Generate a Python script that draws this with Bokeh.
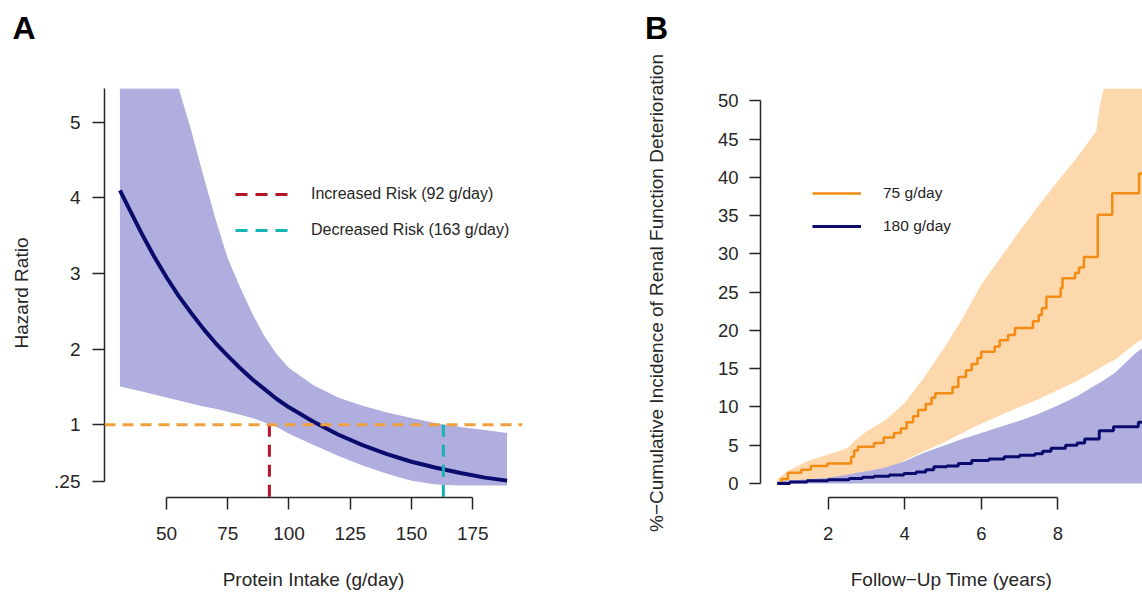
from bokeh.plotting import figure
from bokeh.models import Range1d, FixedTicker, Legend, LegendItem, Span
from bokeh.layouts import row, column
from bokeh.core.properties import value
from bokeh.embed import file_html
from bokeh.resources import INLINE

FONT = "Liberation Sans"
TXT = "#262626"
LAV = "#afaede"
PEACH = "#fdd8ac"
NAVY = "#0b0b6e"
ORANGE = "#f28c14"
ORANGE_DASH = "#f0a03c"

# ---------------- Panel A data ----------------
protein = [31, 35, 40, 45, 50, 55, 60, 65, 70, 75, 80, 85, 90, 95, 100,
           110, 120, 130, 140, 150, 160, 170, 180, 189]
hazard_ratio = [4.10, 3.84, 3.52, 3.22, 2.95, 2.70, 2.48, 2.27, 2.08, 1.91, 1.75,
                1.60, 1.47, 1.34, 1.23, 1.04, 0.87, 0.73, 0.61, 0.51, 0.43,
                0.36, 0.30, 0.26]
band_protein = [31, 40, 50, 55, 60, 65, 70, 75, 80, 85, 90, 95, 100, 110, 120,
                130, 140, 150, 160, 170, 180, 189]
hr_lower = [1.505, 1.44, 1.36, 1.32, 1.28, 1.24, 1.21, 1.17, 1.13, 1.09, 1.03,
            0.97, 0.88, 0.73, 0.59, 0.46, 0.35, 0.26, 0.21, 0.195, 0.195, 0.195]
hr_upper = [5.45, 5.45, 5.45, 5.45, 4.90, 4.30, 3.72, 3.20, 2.82, 2.47, 2.17,
            1.93, 1.75, 1.52, 1.36, 1.25, 1.16, 1.09, 1.02, 0.97, 0.93, 0.89]
reference_hr = 1.0
threshold_intake = [92, 163]
threshold_labels = ["Increased Risk (92 g/day)", "Decreased Risk (163 g/day)"]
threshold_colors = ["#b41428", "#16b3b3"]
hr_ticks = [0.25, 1, 2, 3, 4, 5]
hr_tick_labels = [".25", "1", "2", "3", "4", "5"]
intake_ticks = [50, 75, 100, 125, 150, 175]

# ---------------- Panel B data ----------------
t75 = [0.67, 0.78, 0.95, 1.30, 1.55, 1.98, 2.60, 2.68, 2.78, 3.20, 3.45, 3.72,
       3.90, 4.05, 4.22, 4.35, 4.55, 4.70, 4.80, 5.25, 5.40, 5.60, 5.75, 5.90,
       6.00, 6.35, 6.48, 6.70, 6.88, 7.35, 7.50, 7.58, 7.70, 8.07, 8.12, 8.45,
       8.55, 8.68, 9.04, 9.42, 10.12, 10.30]
inc75 = [0.0, 0.6, 1.4, 1.8, 2.3, 2.6, 3.5, 4.3, 4.8, 5.3, 6.0, 6.6,
         7.2, 8.0, 8.8, 9.6, 10.4, 11.2, 11.8, 12.6, 13.9, 14.8, 15.6, 16.4,
         17.2, 17.9, 18.7, 19.4, 20.3, 21.2, 22.0, 22.9, 24.4, 25.5, 26.8, 27.5,
         28.2, 29.6, 35.1, 37.9, 40.5, 40.5]
t180 = [0.67, 1.00, 1.45, 2.00, 2.55, 2.90, 3.20, 3.60, 3.98, 4.30, 4.55, 4.76,
        5.10, 5.40, 5.75, 6.20, 6.60, 7.00, 7.40, 7.60, 7.82, 8.20, 8.50, 8.70,
        9.08, 9.45, 10.10, 10.30]
inc180 = [0.0, 0.2, 0.35, 0.5, 0.65, 0.8, 0.95, 1.1, 1.3, 1.5, 1.8, 2.2,
          2.3, 2.6, 3.0, 3.2, 3.5, 3.7, 3.9, 4.2, 4.6, 5.0, 5.3, 5.8,
          6.9, 7.4, 8.0, 8.2]
t_band = [0.67, 1.0, 1.5, 2.0, 2.5, 2.75, 3.0, 3.5, 4.0, 4.5, 5.0, 5.5, 6.0,
          6.5, 7.0, 7.5, 8.0, 8.5, 9.0, 9.1, 9.2, 9.5, 10.0, 10.3]
upper75 = [0.6, 1.8, 3.0, 3.8, 4.6, 5.8, 6.8, 8.3, 10.5, 13.8, 17.5, 21.5, 26.0,
           29.5, 33.0, 36.3, 39.5, 42.6, 46.0, 49.5, 51.6, 51.6, 51.6, 51.6]
lower75 = [0.1, 0.2, 0.35, 0.5, 0.8, 1.0, 1.2, 1.8, 3.0, 4.2, 5.3, 6.6, 7.8,
           8.9, 10.0, 11.0, 12.2, 13.4, 14.8, 15.1, 15.4, 16.2, 18.2, 19.2]
upper180 = [0.3, 0.4, 0.55, 0.75, 1.15, 1.4, 1.6, 2.1, 2.9, 4.0, 4.9, 5.8, 6.6,
            7.4, 8.2, 9.1, 10.2, 11.4, 12.9, 13.2, 13.5, 14.5, 16.9, 18.0]
lower180 = 0
series_labels = ["75 g/day", "180 g/day"]
year_ticks = [2, 4, 6, 8]
pct_ticks = [0, 5, 10, 15, 20, 25, 30, 35, 40, 45, 50]
panel_letters = ["A", "B"]


def style_axis(ax, ticks, bounds, tick_size, tick_out, label_standoff,
               axis_label_standoff):
    ax.ticker = FixedTicker(ticks=ticks, minor_ticks=[])
    ax.bounds = bounds
    ax.axis_line_color = TXT
    ax.axis_line_width = 1.5
    ax.major_tick_line_color = TXT
    ax.major_tick_line_width = 1.5
    ax.major_tick_in = 0
    ax.major_tick_out = tick_out
    ax.minor_tick_in = 0
    ax.minor_tick_out = 0
    ax.major_label_text_font = FONT
    ax.major_label_text_font_size = tick_size
    ax.major_label_text_color = TXT
    ax.major_label_standoff = label_standoff
    ax.axis_label_text_font = FONT
    ax.axis_label_text_font_size = "19px"
    ax.axis_label_text_font_style = "normal"
    ax.axis_label_text_color = TXT
    ax.axis_label_standoff = axis_label_standoff


# ================= Panel letters strip =================
pL = figure(width=1142, height=48, x_range=Range1d(0, 1142), y_range=Range1d(48, 0),
            output_backend="svg", toolbar_location=None, title=None,
            min_border=0, x_axis_location=None, y_axis_location=None)
pL.outline_line_color = None
pL.grid.visible = False
pL.text(x=[12, 644.4], y=[27.5, 27], text=panel_letters,
        text_font=value(FONT), text_font_size="32px", text_font_style="bold",
        text_color="black", text_baseline="middle", text_align="left")

# ================= Panel A =================
xA = Range1d(24.7, 195.3)
yA = Range1d(0.037, 5.446)
pA = figure(width=600, height=544, x_range=xA, y_range=yA,
            output_backend="svg", toolbar_location=None, title=None,
            min_border_left=104, min_border_right=78,
            min_border_top=40, min_border_bottom=94,
            x_axis_label="Protein Intake (g/day)", y_axis_label="Hazard Ratio")
pA.grid.visible = False
pA.outline_line_color = None

pA.varea(x=band_protein, y1=hr_lower, y2=hr_upper, fill_color=LAV, fill_alpha=1.0)
pA.line(protein, hazard_ratio, line_color=NAVY, line_width=4)
pA.add_layout(Span(location=reference_hr, dimension="width",
                   line_color=ORANGE_DASH, line_width=3, line_dash="11 7"))

items_A = []
for t, lab, col in zip(threshold_intake, threshold_labels, threshold_colors):
    r = pA.segment(x0=t, y0=reference_hr, x1=t, y1=yA.start,
                   line_color=col, line_width=3, line_dash="12 8")
    items_A.append(LegendItem(label=lab, renderers=[r]))

legA = Legend(items=items_A, location=(131, 257), glyph_width=53, glyph_height=20,
              label_standoff=23, spacing=16, padding=0, margin=0,
              border_line_alpha=0, background_fill_alpha=0,
              label_text_font=FONT, label_text_font_size="16px",
              label_text_color=TXT)
pA.add_layout(legA)

style_axis(pA.xaxis[0], intake_ticks, (50, 175), "19px", 12, 17, 26)
style_axis(pA.yaxis[0], hr_ticks, (0.25, 5.45), "19px", 12, 12, 19)
pA.yaxis[0].major_label_overrides = dict(zip(hr_ticks, hr_tick_labels))

# ================= Panel B =================
xB = Range1d(0.235, 10.209)
yB = Range1d(-1.83, 51.6)
pB = figure(width=542, height=544, x_range=xB, y_range=yB,
            output_backend="svg", toolbar_location=None, title=None,
            min_border_left=160, min_border_right=0,
            min_border_top=40, min_border_bottom=94,
            x_axis_label="Follow\u2212Up Time (years)",
            y_axis_label="%\u2212Cumulative Incidence of Renal Function Deterioration")
pB.grid.visible = False
pB.outline_line_color = None

pB.varea(x=t_band, y1=lower75, y2=upper75, fill_color=PEACH, fill_alpha=1.0)
pB.varea(x=t_band, y1=lower180, y2=upper180, fill_color=LAV, fill_alpha=1.0)
r75 = pB.step(t75, inc75, mode="after", line_color=ORANGE, line_width=2.5)
r180 = pB.step(t180, inc180, mode="after", line_color=NAVY, line_width=3)

legB = Legend(items=[LegendItem(label=series_labels[0], renderers=[r75]),
                     LegendItem(label=series_labels[1], renderers=[r180])],
              location=(52, 261), glyph_width=49, glyph_height=20,
              label_standoff=22, spacing=13, padding=0, margin=0,
              border_line_alpha=0, background_fill_alpha=0,
              label_text_font=FONT, label_text_font_size="15.5px",
              label_text_color=TXT)
pB.add_layout(legB)

style_axis(pB.xaxis[0], year_ticks, (2, 8), "18.5px", 12, 17, 26)
style_axis(pB.yaxis[0], pct_ticks, (0, 50), "18.5px", 11, 11, 48)

layout = column(pL, row(pA, pB))
open("out.html", "w").write(file_html(layout, INLINE, "Protein intake and renal outcomes"))
